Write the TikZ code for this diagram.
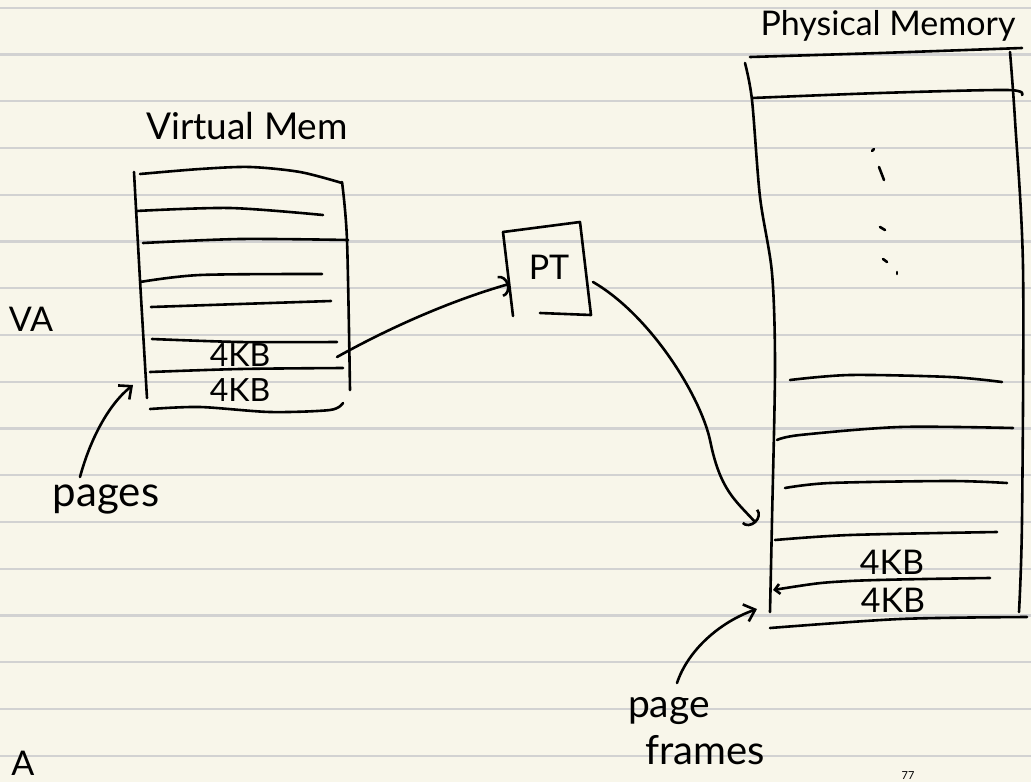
\documentclass[tikz,border=0pt]{standalone}
\usepackage{fontspec}
\setmainfont{Lato}
\usetikzlibrary{arrows.meta}
\definecolor{paper}{RGB}{248,246,234}
\definecolor{rulecol}{RGB}{210,210,210}
\begin{document}
\begin{tikzpicture}[x=1pt,y=-1pt,
  ink/.style={line width=2.6pt, line cap=round, line join=round, black},
  rulestroke/.style={rulecol, line width=2.2pt},
  lbl/.style={inner sep=0pt, text=black},
  arcbarb/.style={-{Arc Barb[length=9pt, width=22pt, line width=2.6pt]}},
  strbarb/.style={-{Straight Barb[length=10pt, width=18pt, line width=2.6pt]}}]
\useasboundingbox (0,0) rectangle (1031,782);
\fill[paper] (0,0) rectangle (1031,782);
\clip (0,0) rectangle (1031,782);
% ruled paper
\foreach \k in {0,...,16} \draw[rulestroke] (0,{7.7+46.75*\k}) -- (1031,{7.7+46.75*\k});

% ---------- Virtual memory ----------
\node[lbl, font=\fontsize{37}{40}\selectfont] (vmtitle) at (247,126) {Virtual Mem};
\draw[ink] plot[smooth] coordinates {(140,174) (200,169) (250,167) (300,172) (342,183)};
\draw[ink] plot[smooth] coordinates {(134,172) (140,280) (147,398)};
\draw[ink] plot[smooth] coordinates {(342,182) (347,240) (350,390)};
\draw[ink] plot[smooth] coordinates {(136,211) (230,208) (323,215)};
\draw[ink] plot[smooth] coordinates {(143,243) (240,239) (348,240)};
\draw[ink] plot[smooth] coordinates {(140,282) (200,275) (322,274)};
\draw[ink] plot[smooth] coordinates {(151,307) (240,304) (331,301)};
\draw[ink] plot[smooth] coordinates {(152,339) (240,342) (337,342)};
\draw[ink] plot[smooth] coordinates {(150,372) (240,369) (343,368)};
\draw[ink] plot[smooth] coordinates {(150,409) (200,407) (270,412) (330,410) (343,403)};
\node[lbl, font=\fontsize{32}{34}\selectfont] (vpage1) at (240,355) {4KB};
\node[lbl, font=\fontsize{32}{34}\selectfont] (vpage2) at (240,390) {4KB};
\node[lbl, font=\fontsize{34}{36}\selectfont] (va) at (31,319) {VA};

% pages label
\node[lbl, font=\fontsize{42}{46}\selectfont] (pages) at (106,499) {pages};
\coordinate (pagesout) at (80,477);
\coordinate (pagestip) at (133,385);
\draw[ink, strbarb] (pagesout) .. controls (90,440) and (108,405) .. (pagestip);

% ---------- Page table ----------
\draw[ink] (503,232) -- (580,222) -- (591,315) -- (540,313);
\draw[ink] (503,232) -- (513,316);
\node[lbl, font=\fontsize{34}{36}\selectfont] (pt) at (549,267) {PT};
\coordinate (vaout) at (337,357);
\coordinate (ptin) at (509,284);
\draw[ink, arcbarb] (vaout) .. controls (400,322) and (460,298) .. (ptin);

% ---------- Physical memory ----------
\node[lbl, font=\fontsize{34}{38}\selectfont] (pmtitle) at (888,26) {Physical Memory};
\draw[ink] plot[smooth] coordinates {(750,57) (880,53) (1022,48)};
\draw[ink] plot[smooth] coordinates {(745,63) (752,100) (760,197) (772,273) (775,367) (772,520) (770,612)};
\draw[ink] plot[smooth] coordinates {(1010,52) (1015,120) (1023,267) (1022,520) (1019,612)};
\draw[ink] plot[smooth] coordinates {(752,98) (880,93) (1007,90) (1022,95)};
\draw[ink] plot[smooth] coordinates {(790,380) (850,375) (950,377) (1002,382)};
\draw[ink] plot[smooth] coordinates {(777,440) (800,435) (900,427) (1013,428)};
\draw[ink] plot[smooth] coordinates {(785,488) (830,483) (950,481) (1007,483)};
\draw[ink] plot[smooth] coordinates {(775,540) (850,535) (997,532)};
\draw[ink, {Straight Barb[length=5pt, width=10pt, line width=2.6pt]}-] plot[smooth] coordinates {(773,590) (850,581) (990,578)};
\draw[ink] plot[smooth] coordinates {(770,628) (900,619) (1027,617)};
\node[lbl, font=\fontsize{34}{36}\selectfont] (ppage1) at (892,562) {4KB};
\node[lbl, font=\fontsize{34}{36}\selectfont] (ppage2) at (893,600) {4KB};
% vertical ellipsis dots
\draw[ink] (872,151) -- (874,149);
\draw[ink] (879,167) -- (884,180);
\draw[ink] (880,227) -- (885,230);
\draw[ink] (883,259) -- (887,262);
\draw[ink] (897,272) -- (897,274);

\coordinate (ptout) at (593,282);
\coordinate (pmin) at (756,523);
\draw[ink, arcbarb] (ptout) .. controls (650,315) and (700,395) .. (710,440)
   .. controls (720,490) and (735,500) .. (pmin);

% page frames label
\node[lbl, font=\fontsize{39}{42}\selectfont] (pagew) at (669,711) {page};
\node[lbl, font=\fontsize{40}{42}\selectfont] (framesw) at (705,750) {frames};
\coordinate (pfout) at (677,683);
\coordinate (pftip) at (757,609);
\draw[ink, strbarb] (pfout) .. controls (688,650) and (720,622) .. (pftip);

% small marks at the page bottom
\node[lbl, anchor=base, font=\fontsize{34}{36}\selectfont] (corner) at (23,775) {A};
\node[lbl, anchor=base, font=\fontsize{11}{12}\selectfont] (pagenum) at (908,779) {77};
\end{tikzpicture}
\end{document}
